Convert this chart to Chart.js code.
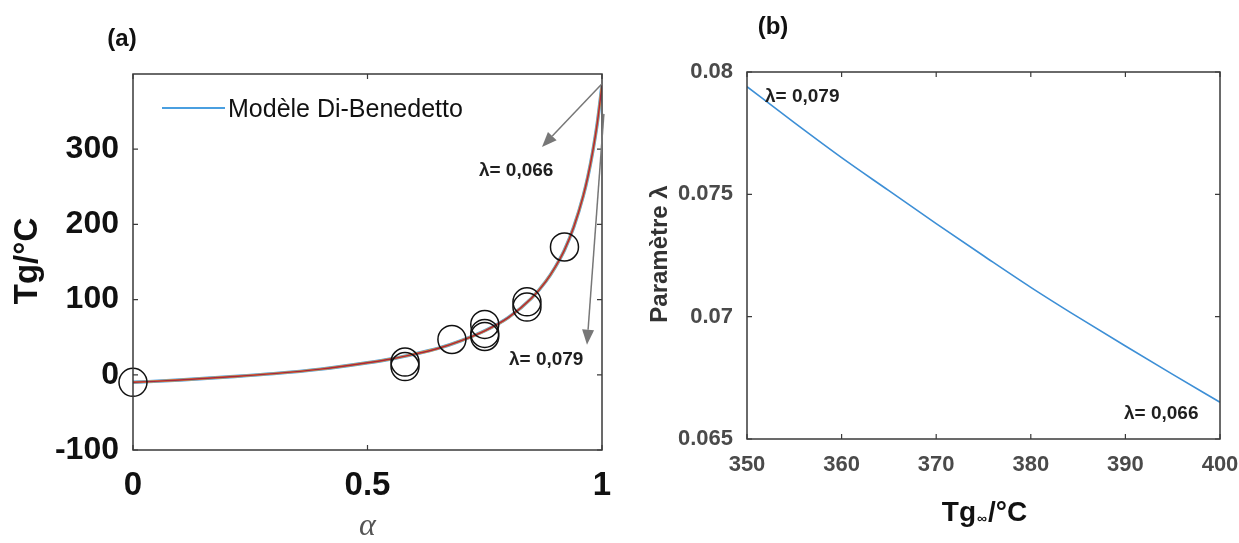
<!DOCTYPE html>
<html>
<head>
<meta charset="utf-8">
<script src="https://cdn.jsdelivr.net/npm/chart.js@4.4.1/dist/chart.umd.min.js"></script>
<style>
  html, body { margin: 0; padding: 0; background: #fff; }
  #wrap { position: relative; width: 1239px; height: 543px; }
  .box { position: absolute; top: 0; height: 543px; }
  #box-a { left: 0; width: 620px; }
  #box-b { left: 620px; width: 619px; }
</style>
</head>
<body>
<div id="wrap">
  <div class="box" id="box-a"><canvas id="chart-a"></canvas></div>
  <div class="box" id="box-b"><canvas id="chart-b"></canvas></div>
</div>
<script>
// (a) Di-Benedetto curve
var alpha = [0, 0.1, 0.2, 0.3, 0.4, 0.5, 0.55, 0.6, 0.65, 0.7, 0.75, 0.8, 0.85, 0.88, 0.9, 0.92, 0.94, 0.96, 0.97, 0.98, 0.99, 1];
var tgModel = [-10, -7, -3, 1.5, 7.5, 16, 21, 27.5, 35, 45.5, 58.5, 76, 102, 124, 143, 166, 197, 238, 264, 296, 335, 385];

// (a) measured points (circles)
var expAlpha = [0, 0.58, 0.58, 0.68, 0.75, 0.75, 0.75, 0.84, 0.84, 0.92];
var expTg = [-10, 17, 11, 47, 67, 55, 51, 97, 90, 170];

var xTicksA = [0, 0.5, 1];
var xLabelsA = ["0", "0.5", "1"];
var yTicksA = [-100, 0, 100, 200, 300];

// (b) lambda vs Tg infinity
var tgInf = [350, 355, 360, 365, 370, 375, 380, 385, 390, 395, 400];
var lambda = [0.0794, 0.07793, 0.0765, 0.07515, 0.0738, 0.07249, 0.0712, 0.06998, 0.0688, 0.06764, 0.0665];

var xTicksB = [350, 360, 370, 380, 390, 400];
var yTicksB = [0.065, 0.07, 0.075, 0.08];
var yLabelsB = ["0.065", "0.07", "0.075", "0.08"];

var SANS = "Arial, 'Liberation Sans', sans-serif";

function pts(xs, ys) {
  return xs.map(function (x, i) { return { x: x, y: ys[i] }; });
}

function arrow(ctx, x1, y1, x2, y2) {
  var a = Math.atan2(y2 - y1, x2 - x1);
  var len = 15, w = 6;
  var bx = x2 - len * Math.cos(a), by = y2 - len * Math.sin(a);
  ctx.beginPath();
  ctx.moveTo(x1, y1);
  ctx.lineTo(bx, by);
  ctx.stroke();
  ctx.beginPath();
  ctx.moveTo(x2, y2);
  ctx.lineTo(bx + w * Math.sin(a), by - w * Math.cos(a));
  ctx.lineTo(bx - w * Math.sin(a), by + w * Math.cos(a));
  ctx.closePath();
  ctx.fill();
}

// no extra side padding for the edge tick labels
function noSidePad(axis) {
  axis.paddingLeft = 0;
  axis.paddingRight = 0;
}

// matlab-like box with inward ticks
var frame = {
  id: "frame",
  afterDatasetsDraw: function (chart) {
    var ctx = chart.ctx, a = chart.chartArea;
    var sx = chart.scales.x, sy = chart.scales.y;
    ctx.save();
    ctx.strokeStyle = "#3a3a3a";
    ctx.lineWidth = 1.5;
    ctx.strokeRect(a.left, a.top, a.right - a.left, a.bottom - a.top);
    ctx.lineWidth = 1.2;
    ctx.beginPath();
    sx.ticks.forEach(function (t) {
      var px = sx.getPixelForValue(t.value);
      ctx.moveTo(px, a.bottom); ctx.lineTo(px, a.bottom - 5);
      ctx.moveTo(px, a.top); ctx.lineTo(px, a.top + 5);
    });
    sy.ticks.forEach(function (t) {
      var py = sy.getPixelForValue(t.value);
      ctx.moveTo(a.left, py); ctx.lineTo(a.left + 5, py);
      ctx.moveTo(a.right, py); ctx.lineTo(a.right - 5, py);
    });
    ctx.stroke();
    ctx.restore();
  }
};

var notesA = {
  id: "notesA",
  afterDraw: function (chart) {
    var ctx = chart.ctx, a = chart.chartArea;
    var sx = chart.scales.x, sy = chart.scales.y;
    ctx.save();
    ctx.textAlign = "center";
    ctx.textBaseline = "middle";
    ctx.fillStyle = "#111";
    ctx.font = "bold 24px " + SANS;
    ctx.fillText("(a)", 122, 39);

    // y title
    ctx.save();
    ctx.translate(28, 261);
    ctx.rotate(-Math.PI / 2);
    ctx.font = "bold 33px " + SANS;
    ctx.fillText("Tg/\u00B0C", 0, 0);
    ctx.restore();

    // x title
    ctx.fillStyle = "#555";
    ctx.font = "italic 32px 'Liberation Serif', 'DejaVu Serif', serif";
    ctx.fillText("\u03B1", (a.left + a.right) / 2, 527);

    // legend
    ctx.strokeStyle = "#4a9fe0";
    ctx.lineWidth = 2;
    ctx.beginPath();
    ctx.moveTo(162, 108); ctx.lineTo(225, 108);
    ctx.stroke();
    ctx.fillStyle = "#111";
    ctx.textAlign = "left";
    ctx.font = "25px " + SANS;
    ctx.fillText("Mod\u00E8le Di-Benedetto", 228, 110);

    // arrows and lambda notes
    ctx.strokeStyle = "#777";
    ctx.fillStyle = "#777";
    ctx.lineWidth = 1.5;
    arrow(ctx, sx.getPixelForValue(1), sy.getPixelForValue(387), sx.getPixelForValue(0.872), sy.getPixelForValue(303));
    arrow(ctx, sx.getPixelForValue(1.004), sy.getPixelForValue(347), sx.getPixelForValue(0.968), sy.getPixelForValue(40));
    ctx.fillStyle = "#1f1f1f";
    ctx.textAlign = "center";
    ctx.font = "bold 19px " + SANS;
    ctx.fillText("\u03BB= 0,066", sx.getPixelForValue(0.817), sy.getPixelForValue(271));
    ctx.fillText("\u03BB= 0,079", sx.getPixelForValue(0.881), sy.getPixelForValue(20));
    ctx.restore();
  }
};

var notesB = {
  id: "notesB",
  afterDraw: function (chart) {
    var ctx = chart.ctx, a = chart.chartArea;
    var sx = chart.scales.x, sy = chart.scales.y;
    var cx = (a.left + a.right) / 2;
    ctx.save();
    ctx.textBaseline = "middle";
    ctx.textAlign = "center";
    ctx.fillStyle = "#111";
    ctx.font = "bold 24px " + SANS;
    ctx.fillText("(b)", 153, 27);

    // y title
    ctx.save();
    ctx.translate(40, 254);
    ctx.rotate(-Math.PI / 2);
    ctx.fillStyle = "#333";
    ctx.font = "bold 24px " + SANS;
    ctx.fillText("Param\u00E8tre \u03BB", 0, 0);
    ctx.restore();

    // x title Tg∞/°C with small infinity
    ctx.fillStyle = "#111";
    ctx.textAlign = "left";
    var big = "bold 28px " + SANS, small = "bold 14px " + SANS;
    ctx.font = big;
    var w1 = ctx.measureText("Tg").width, w3 = ctx.measureText("/\u00B0C").width;
    ctx.font = small;
    var w2 = ctx.measureText("\u221E").width;
    var x0 = cx - (w1 + w2 + w3) / 2, y0 = 513;
    ctx.font = big;
    ctx.fillText("Tg", x0, y0);
    ctx.font = small;
    ctx.fillText("\u221E", x0 + w1 + 1, y0 + 6);
    ctx.font = big;
    ctx.fillText("/\u00B0C", x0 + w1 + w2 + 2, y0);

    // lambda notes
    ctx.fillStyle = "#1f1f1f";
    ctx.font = "bold 19px " + SANS;
    ctx.fillText("\u03BB= 0,079", sx.getPixelForValue(351.9), sy.getPixelForValue(0.07898));
    ctx.fillText("\u03BB= 0,066", sx.getPixelForValue(389.85), sy.getPixelForValue(0.06605));
    ctx.restore();
  }
};

new Chart(document.getElementById("chart-a"), {
  type: "scatter",
  data: {
    datasets: [
      {
        label: "Exp",
        data: pts(expAlpha, expTg),
        pointStyle: "circle",
        pointRadius: 14,
        pointBorderColor: "#111",
        pointBackgroundColor: "rgba(0,0,0,0)",
        pointBorderWidth: 1.5,
        clip: false,
      },
      {
        label: "lambda 0,066",
        data: pts(alpha, tgModel),
        showLine: true,
        borderColor: "#a5273f",
        borderWidth: 1.4,
        pointRadius: 0,
        cubicInterpolationMode: "monotone",
      },
      {
        label: "lambda 0,079",
        data: pts(alpha, tgModel),
        showLine: true,
        borderColor: "#e89a3c",
        borderWidth: 2.4,
        pointRadius: 0,
        cubicInterpolationMode: "monotone",
      },
      {
        label: "Mod\u00E8le Di-Benedetto",
        data: pts(alpha, tgModel),
        showLine: true,
        borderColor: "#4a9fe0",
        borderWidth: 3.4,
        pointRadius: 0,
        cubicInterpolationMode: "monotone",
      },
    ],
  },
  options: {
    responsive: true,
    maintainAspectRatio: false,
    animation: false,
    layout: { padding: { top: 74, right: 18, left: 0, bottom: 0 } },
    plugins: { legend: { display: false }, tooltip: { enabled: false } },
    scales: {
      x: {
        type: "linear",
        min: 0,
        max: 1,
        afterBuildTicks: function (axis) {
          axis.ticks = xTicksA.map(function (v) { return { value: v }; });
        },
        afterFit: function (axis) { axis.height = 93; noSidePad(axis); },
        grid: { display: false, drawTicks: false },
        border: { display: false },
        ticks: {
          padding: 16,
          color: "#111",
          font: { family: SANS, size: 33, weight: "bold" },
          callback: function (v, i) { return xLabelsA[i]; },
        },
      },
      y: {
        min: -100,
        max: 400,
        afterBuildTicks: function (axis) {
          axis.ticks = yTicksA.map(function (v) { return { value: v }; });
        },
        afterFit: function (axis) { axis.width = 133; },
        grid: { display: false, drawTicks: false },
        border: { display: false },
        ticks: {
          padding: 14,
          color: "#111",
          font: { family: SANS, size: 32, weight: "bold" },
          callback: function (v) { return String(v); },
        },
      },
    },
  },
  plugins: [frame, notesA],
});

new Chart(document.getElementById("chart-b"), {
  type: "scatter",
  data: {
    datasets: [
      {
        label: "lambda",
        data: pts(tgInf, lambda),
        showLine: true,
        borderColor: "#3d8fd6",
        borderWidth: 1.6,
        pointRadius: 0,
        cubicInterpolationMode: "monotone",
      },
    ],
  },
  options: {
    responsive: true,
    maintainAspectRatio: false,
    animation: false,
    layout: { padding: { top: 72, right: 19, left: 0, bottom: 0 } },
    plugins: { legend: { display: false }, tooltip: { enabled: false } },
    scales: {
      x: {
        type: "linear",
        min: 350,
        max: 400,
        afterBuildTicks: function (axis) {
          axis.ticks = xTicksB.map(function (v) { return { value: v }; });
        },
        afterFit: function (axis) { axis.height = 104; noSidePad(axis); },
        grid: { display: false, drawTicks: false },
        border: { display: false },
        ticks: {
          padding: 13,
          color: "#4a4a4a",
          font: { family: SANS, size: 22, weight: "bold" },
          callback: function (v) { return String(v); },
        },
      },
      y: {
        min: 0.065,
        max: 0.08,
        afterBuildTicks: function (axis) {
          axis.ticks = yTicksB.map(function (v) { return { value: v }; });
        },
        afterFit: function (axis) { axis.width = 127; },
        grid: { display: false, drawTicks: false },
        border: { display: false },
        ticks: {
          padding: 14,
          color: "#4a4a4a",
          font: { family: SANS, size: 22, weight: "bold" },
          callback: function (v, i) { return yLabelsB[i]; },
        },
      },
    },
  },
  plugins: [frame, notesB],
});
</script>
</body>
</html>
